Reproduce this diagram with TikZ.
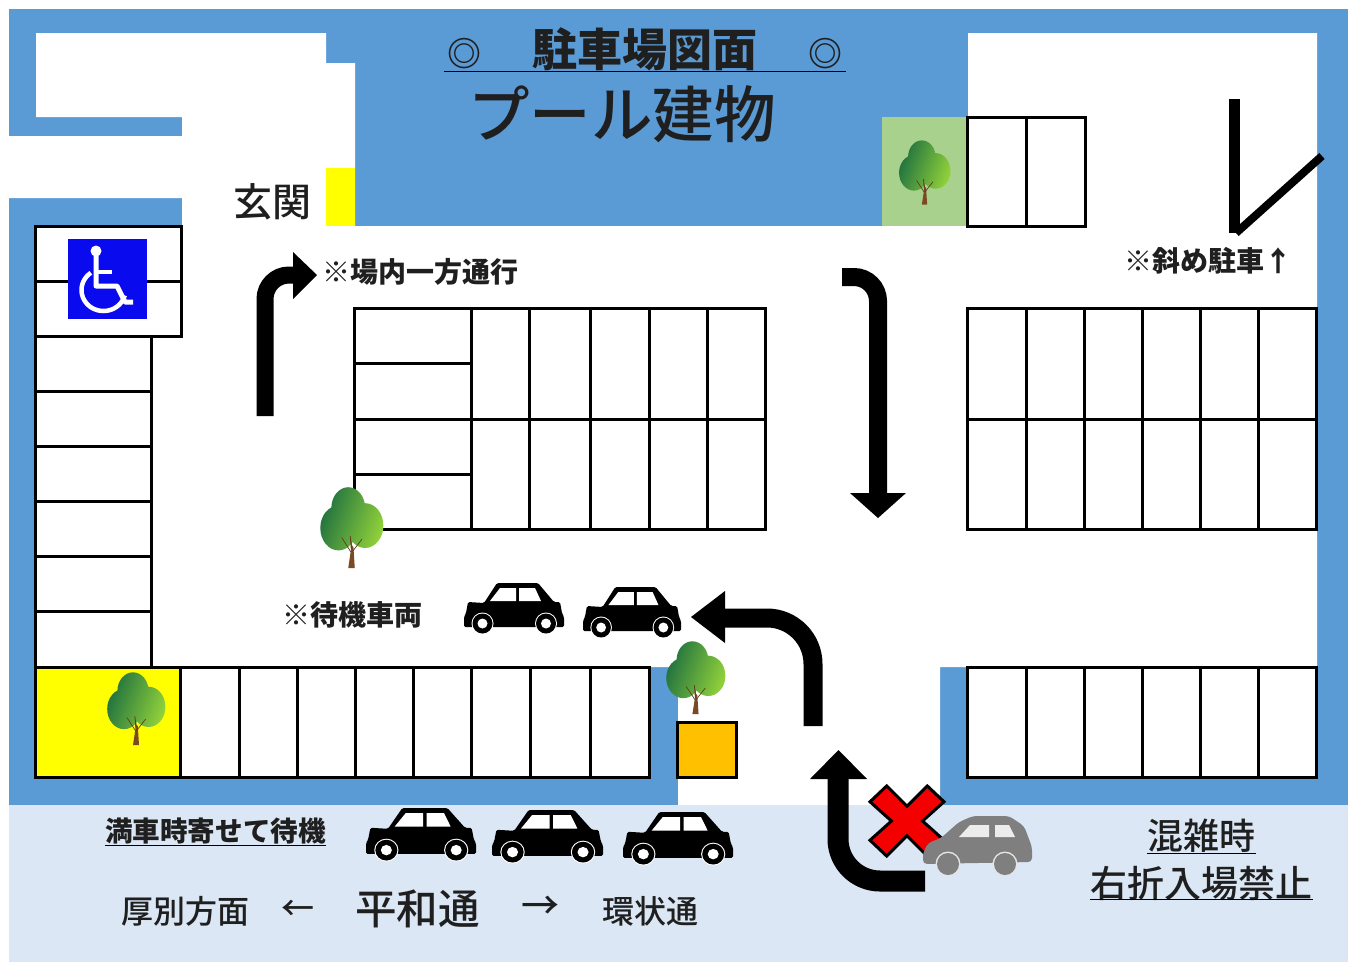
\documentclass[tikz,border=0pt]{standalone}
\usepackage{fontspec}
\setmainfont{Noto Sans CJK JP}
\newfontfamily\medf{Noto Sans CJK JP Medium}
\usetikzlibrary{calc}
\definecolor{wallblue}{HTML}{5B9BD5}
\definecolor{roadblue}{HTML}{DBE7F4}
\definecolor{treegreen}{HTML}{A9D18E}
\definecolor{amber}{HTML}{FFC000}
\definecolor{signblue}{HTML}{0A0AEE}
\definecolor{signyellow}{HTML}{FFFF00}
\definecolor{signred}{HTML}{F40000}
\definecolor{carGray}{HTML}{7F7F7F}
\definecolor{leafdark}{HTML}{1F7040}
\definecolor{leaflight}{HTML}{8FD03A}
\definecolor{bark}{HTML}{7A4A26}
\newcommand{\fs}[1]{\fontsize{#1}{#1}\selectfont}
\tikzset{
  lot/.style={draw=black,line width=3pt},
  flow/.style={draw=black,line cap=butt},
  label/.style={inner sep=0pt,text=black!88},
  rule/.style={draw=black,line width=1.8pt},
  blackcar/.pic={
    \fill[black,rounded corners=1.5pt] (20,20) -- (33,0) -- (74,0) -- (90,19) -- (96,19) -- (98,30) -- (100,34) -- (100,44) -- (0,44) -- (0,34) -- (2,30) -- (4,19) -- cycle;
    \fill[white] (26,18) -- (36,5) -- (52,5) -- (52,18) -- cycle;
    \fill[white] (55,5) -- (71,5) -- (77,18) -- (55,18) -- cycle;
    \foreach \cx in {18.5,82}{
      \fill[white] (\cx,40.5) circle (11);
      \fill[black] (\cx,40.5) circle (10);
      \fill[white] (\cx,40.5) circle (5);
    }
  },
  shrub/.pic={
    \shade[left color=leafdark,right color=leaflight,shading angle=70]
      (45,25) circle (26) (30,50) circle (28) (71,47) circle (28);
    \fill[bark] (48,60) -- (51,72) -- (53,74) -- (55,100) -- (45,100) -- (49,78) -- cycle;
    \draw[bark!80!black,line width=.7pt] (49,80) -- (35,62) (51,80) -- (66,64) (48,60) -- (50,76);
  }
}
\begin{document}
\begin{tikzpicture}[x=1pt,y=-1pt]
\useasboundingbox (0,0) rectangle (1353,962);
\fill[white] (0,0) rectangle (1353,962);
% ground
\fill[wallblue] (9,9) rectangle (1348,805);
\fill[roadblue] (9,805) rectangle (1348,962);
\fill[white] (36,33) -- (326,33) -- (326,63) -- (355,63) -- (355,226) -- (968,226) -- (968,33)
  -- (1317,33) -- (1317,667) -- (940,667) -- (940,805) -- (678,805) -- (678,667) -- (650,667)
  -- (36,667) -- (36,226) -- (182,226) -- (182,198) -- (9,198) -- (9,136) -- (182,136) -- (182,117) -- (36,117) -- cycle;
\fill[white] (36,667) rectangle (650,777);
\fill[white] (968,667) rectangle (1317,777);
% coloured patches
\fill[signyellow] (326,168) rectangle (355,226);
\fill[treegreen] (882,117) rectangle (968,226);
\fill[signyellow] (36,667) rectangle (181,777);
\begin{scope}[xshift=-.3pt]
\draw[lot,fill=amber] (678,722) rectangle (737,777);
% accessible bays
\draw[lot] (36,226) rectangle (182,336);
\draw[lot] (36,281) -- (182,281);
% left column
\draw[lot] (36,336) rectangle (152,667);
\foreach \yy in {391,446,501,556,611} \draw[lot] (36,\yy) -- (152,\yy);
% bottom row
\draw[lot] (36,667) rectangle (650,777);
\foreach \xx in {181,240,298,356,414,472,531,591} \draw[lot] (\xx,667) -- (\xx,777);
% central block
\draw[lot] (355,308) rectangle (766,529);
\foreach \yy in {363,419,474} \draw[lot] (355,\yy) -- (472,\yy);
\draw[lot] (472,419) -- (766,419);
\foreach \xx in {472,530,591,650,708} \draw[lot] (\xx,308) -- (\xx,529);
% right block
\draw[lot] (968,308) rectangle (1317,529);
\draw[lot] (968,419) -- (1317,419);
\foreach \xx in {1027,1085,1143,1201,1259} \draw[lot] (\xx,308) -- (\xx,529);
% lower right row
\draw[lot] (968,667) rectangle (1317,777);
\foreach \xx in {1027,1085,1143,1201,1259} \draw[lot] (\xx,667) -- (\xx,777);
% top right bays
\draw[lot] (968,117) rectangle (1086,226);
\draw[lot] (1027,117) -- (1027,226);
\end{scope}
% wheelchair sign
\fill[signblue] (68,239) rectangle (147,319);
\begin{scope}[white,line width=5pt]
  \fill (96,251) circle (5.5);
  \draw[line join=round] (96,255) -- (96,286) -- (117,286) -- (125,302) -- (133,302);
  \draw[line width=4pt] (97,272) -- (112,272);
  \draw[line width=4.5pt] plot[domain=235:15,samples=30] ({103.5+22*cos(\x)},{290+21*sin(\x)});
\end{scope}
% oblique parking mark
\draw[line width=11pt] (1234.5,99) -- (1234.5,233);
\draw[line width=8pt] (1236,233) -- (1322,156);
% traffic arrows
\draw[flow,line width=17pt,rounded corners=24pt] (265,416) -- (265,275) -- (296,275);
\fill (293,252) -- (317,275) -- (293,299) -- cycle;
\draw[flow,line width=18pt,rounded corners=24pt] (842,277) -- (878,277) -- (878,495);
\fill (850,493) -- (906,493) -- (878,518) -- cycle;
\draw[flow,line width=19pt,rounded corners=46pt] (813,726) -- (813,618) -- (722,618);
\fill (725,591) -- (691,617) -- (725,643) -- cycle;
\draw[flow,line width=21pt,rounded corners=42pt] (838,777) -- (838,881) -- (925,881);
\fill (810,779) -- (838.5,750) -- (867,779) -- cycle;
% no entry cross
\begin{scope}[shift={(907,821)},x=37pt,y=35pt]
  \draw[fill=signred,line width=3pt,line join=miter] (-1,-.55) -- (-.55,-1) -- (0,-.42) -- (.55,-1) -- (1,-.55) -- (.42,0) -- (1,.55) -- (.55,1) -- (0,.42) -- (-.55,1) -- (-1,.55) -- (-.42,0) -- cycle;
\end{scope}
% grey car
\fill[carGray,rounded corners=4pt] (923,853) -- (928,843) -- (941,838) -- (959,822) -- (973,816) -- (1009,816) -- (1024,826) -- (1032,847) -- (1032,862) -- (923,864) -- cycle;
\fill[white!85!carGray] (959,837) -- (970,825) -- (989,825) -- (989,837) -- cycle;
\fill[white!85!carGray] (995,825) -- (1009,825) -- (1015,837) -- (995,837) -- cycle;
\foreach \cx in {948,1005}{
  \fill[white!80!carGray] (\cx,864) circle (12.5);
  \fill[carGray] (\cx,864) circle (11);
}
% black cars
\pic at (464,583) {blackcar};
\pic[xscale=.98] at (583,587) {blackcar};
\pic[xscale=1.1,yscale=1.04] at (366,808) {blackcar};
\pic[xscale=1.11,yscale=1.04] at (492,810) {blackcar};
\pic[xscale=1.1,yscale=1.04] at (623,812) {blackcar};
% trees
\pic[scale=.53,yscale=1.2] at (898,141) {shrub};
\pic[xscale=.65,yscale=.8] at (319,488) {shrub};
\pic[xscale=.6,yscale=.72] at (106,673) {shrub};
\pic[xscale=.61,yscale=.72] at (665,642) {shrub};
% texts
\node[label,font=\bfseries\fs{45}] (title) at (645,49) {{\fs{34}◎}\hspace{51pt}駐車場図面\hspace{51pt}{\fs{34}◎}};
\draw[rule] (444,71.5) -- (846,71.5);
\node[label,font=\medf\fs{61.5}] (pool) at (622,114) {プール建物};
\node[label,font=\medf\fs{39}] (door) at (272,202) {玄関};
\node[label,font=\bfseries\fs{28}] (oneway) at (420.5,272) {※場内一方通行};
\node[label,font=\bfseries\fs{28}] (oblique) at (1208,261) {※斜め駐車↑};
\node[label,font=\bfseries\fs{28}] (waiting) at (352,615) {※待機車両};
\node[label,font=\bfseries\fs{27.6}] (full) at (215.5,831) {満車時寄せて待機};
\draw[rule] (105,845.5) -- (326,845.5);
\node[label,font=\medf\fs{32}] (atsu) at (185,911) {厚別方面};
\node[label,font=\medf\fs{33}] (left) at (298,910) {←};
\node[label,font=\medf\fs{41.5}] (heiwa) at (417.5,909) {平和通};
\node[label,font=\medf\fs{38}] (right) at (540,908) {→};
\node[label,font=\medf\fs{32}] (kanjo) at (650,911) {環状通};
\node[label,font=\medf\fs{36}] (busy) at (1201.5,836) {混雑時};
\draw[rule] (1147,853.5) -- (1256,853.5);
\node[label,font=\medf\fs{37}] (noright) at (1201.5,883) {右折入場禁止};
\draw[rule] (1090,899.5) -- (1313,899.5);
\end{tikzpicture}
\end{document}
